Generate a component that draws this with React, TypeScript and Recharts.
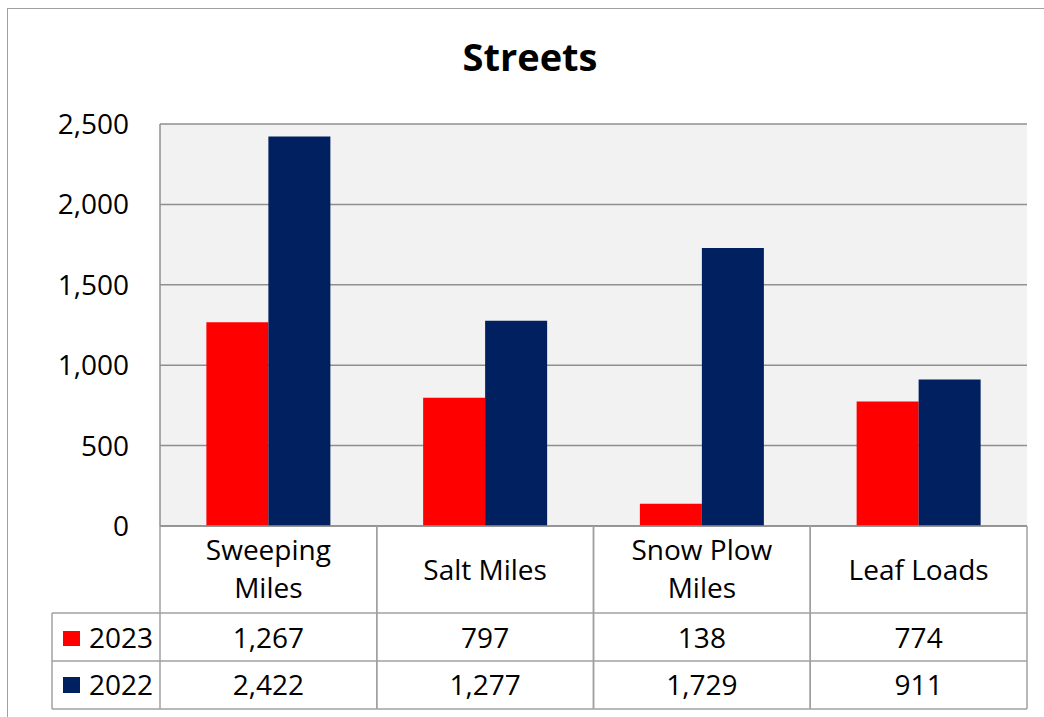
import React from "react";
import {
  BarChart,
  Bar,
  XAxis,
  YAxis,
  CartesianGrid,
} from "recharts";

const categories = ["Sweeping Miles", "Salt Miles", "Snow Plow Miles", "Leaf Loads"];
const headerLines = [["Sweeping", "Miles"], ["Salt Miles"], ["Snow Plow", "Miles"], ["Leaf Loads"]];
const values2023 = [1267, 797, 138, 774];
const values2022 = [2422, 1277, 1729, 911];
const yTicks = [0, 500, 1000, 1500, 2000, 2500];

const RED = "#ff0000";
const NAVY = "#002060";
const LINE = "#a0a0a0";
const GRID = "#8f8f8f";
const FONT = "'Open Sans', sans-serif";

const W = 1044;
const H = 717;
const PLOT_LEFT = 160;
const PLOT_RIGHT = 1027;
const COL_W = (PLOT_RIGHT - PLOT_LEFT) / categories.length;
const LEGEND_COL_LEFT = 52;

const data = categories.map((name, i) => ({
  name,
  y2023: values2023[i],
  y2022: values2022[i],
}));

const fmt = (v: number) => v.toLocaleString("en-US");

function TableTick(props: any) {
  const { x, y, index } = props;
  const i = index ?? props.payload?.index ?? 0;
  const left = x - COL_W / 2;
  const right = x + COL_W / 2;
  const lines = headerLines[i];
  const textProps = {
    textAnchor: "middle" as const,
    fontFamily: FONT,
    fontSize: 28,
    fill: "#000",
  };

  return (
    <g>
      {/* header cell */}
      {lines.length === 1 ? (
        <text x={x} y={y + 54} {...textProps}>{lines[0]}</text>
      ) : (
        <>
          <text x={x} y={y + 34} {...textProps}>{lines[0]}</text>
          <text x={x} y={y + 72} {...textProps}>{lines[1]}</text>
        </>
      )}
      <text x={x} y={y + 122} {...textProps}>{fmt(values2023[i])}</text>
      <text x={x} y={y + 169} {...textProps}>{fmt(values2022[i])}</text>

      {/* grid of the table */}
      <line x1={left} x2={left} y1={y} y2={y + 183} stroke={LINE} strokeWidth={1.5} />
      <line x1={right} x2={right} y1={y} y2={y + 183} stroke={LINE} strokeWidth={1.5} />
      <line x1={left} x2={right} y1={y + 87} y2={y + 87} stroke={LINE} strokeWidth={1.5} />
      <line x1={left} x2={right} y1={y + 135} y2={y + 135} stroke={LINE} strokeWidth={1.5} />
      <line x1={left} x2={right} y1={y + 183} y2={y + 183} stroke={LINE} strokeWidth={1.5} />

      {/* legend column, once */}
      {i === 0 && (
        <g>
          <line x1={LEGEND_COL_LEFT} x2={left} y1={y + 87} y2={y + 87} stroke={LINE} strokeWidth={1.5} />
          <line x1={LEGEND_COL_LEFT} x2={left} y1={y + 135} y2={y + 135} stroke={LINE} strokeWidth={1.5} />
          <line x1={LEGEND_COL_LEFT} x2={left} y1={y + 183} y2={y + 183} stroke={LINE} strokeWidth={1.5} />
          <line x1={LEGEND_COL_LEFT} x2={LEGEND_COL_LEFT} y1={y + 87} y2={y + 183} stroke={LINE} strokeWidth={1.5} />
          <rect x={LEGEND_COL_LEFT + 11} y={y + 105} width={17} height={15} fill={RED} />
          <text x={LEGEND_COL_LEFT + 37} y={y + 122} fontFamily={FONT} fontSize={28} fill="#000">2023</text>
          <rect x={LEGEND_COL_LEFT + 11} y={y + 151} width={17} height={16} fill={NAVY} />
          <text x={LEGEND_COL_LEFT + 37} y={y + 169} fontFamily={FONT} fontSize={28} fill="#000">2022</text>
        </g>
      )}
    </g>
  );
}

export default function App() {
  return (
    <div
      style={{
        position: "absolute",
        left: 0,
        top: 0,
        width: W,
        height: H,
        overflow: "hidden",
        background: "#fff",
      }}
    >
      {/* outer chart frame */}
      <div
        style={{
          position: "absolute",
          left: 7,
          top: 8,
          width: 1200,
          height: 900,
          borderLeft: `1.5px solid ${LINE}`,
          borderTop: `1.5px solid ${LINE}`,
        }}
      />

      <div style={{ position: "absolute", left: 0, top: 0 }}>
        <BarChart
          width={W}
          height={H}
          data={data}
          margin={{ top: 124, right: W - PLOT_RIGHT, bottom: 8, left: 0 }}
          barCategoryGap="21.4%"
          barGap={0}
        >
          <CartesianGrid vertical={false} fill="#f2f2f2" stroke={GRID} strokeWidth={1.5} />
          <XAxis
            dataKey="name"
            height={183}
            interval={0}
            tickSize={0}
            tickMargin={0}
            tickLine={false}
            axisLine={{ stroke: GRID, strokeWidth: 1.5 }}
            tick={<TableTick />}
          />
          <YAxis
            width={PLOT_LEFT}
            domain={[0, 2500]}
            ticks={yTicks}
            tickFormatter={fmt}
            tickLine={false}
            tickSize={0}
            tickMargin={31}
            axisLine={{ stroke: GRID, strokeWidth: 1.5 }}
            tick={{ fontSize: 28, fill: "#000", fontFamily: FONT }}
          />
          <YAxis
            yAxisId="r"
            orientation="right"
            width={0}
            domain={[0, 2500]}
            tick={false}
            tickLine={false}
            axisLine={{ stroke: GRID, strokeWidth: 1.5 }}
          />
          <Bar dataKey="y2023" name="2023" fill={RED} isAnimationActive={false} />
          <Bar dataKey="y2022" name="2022" fill={NAVY} isAnimationActive={false} />
        </BarChart>
      </div>

      <svg
        width={W}
        height={H}
        style={{ position: "absolute", left: 0, top: 0, pointerEvents: "none" }}
      >
        <text
          x={530}
          y={71}
          textAnchor="middle"
          fontFamily={FONT}
          fontWeight={700}
          fontSize={38}
          fill="#000"
        >
          Streets
        </text>
      </svg>
    </div>
  );
}
